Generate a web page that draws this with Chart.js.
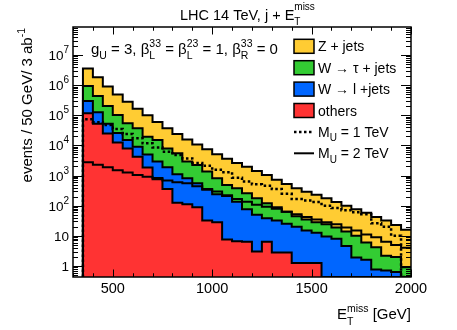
<!DOCTYPE html>
<html>
<head>
<meta charset="utf-8">
<script src="https://cdn.jsdelivr.net/npm/chart.js@4.4.1/dist/chart.umd.min.js"></script>
<style>
  html, body { margin: 0; padding: 0; background: #fff; }
  #wrap { width: 457px; height: 330px; }
</style>
</head>
<body>
<div id="wrap"><canvas id="c" width="457" height="330"></canvas></div>
<script>
// MET spectrum, 50 GeV bins from 350 to 2000 GeV (low edges)
const binLow = [350, 400, 450, 500, 550, 600, 650, 700, 750, 800, 850, 900, 950, 1000, 1050,
  1100, 1150, 1200, 1250, 1300, 1350, 1400, 1450, 1500, 1550, 1600, 1650, 1700, 1750, 1800,
  1850, 1900, 1950];

// stacked totals (0 = empty bin)
const zjetsStack = [3.55e6, 1.82e6, 9.1e5, 4.9e5, 2.8e5, 1.66e5, 1.0e5, 6.0e4, 3.7e4, 2.4e4,
  1.58e4, 1.07e4, 7400, 5100, 3600, 2600, 1950, 1410, 1050, 720, 525, 380, 290, 230, 178, 132,
  100, 76, 58, 42, 32, 23, 16];
const wtauStack = [9.3e5, 4.4e5, 2.04e5, 1.02e5, 5.4e4, 3.7e4, 1.95e4, 1.51e4, 7900, 5500,
  2900, 2240, 1350, 810, 490, 380, 257, 178, 120, 89, 63, 45, 35, 28, 24, 19, 14, 10, 6, 4.2,
  2.2, 2.0, 0.9];
const wlStack = [2.95e5, 1.26e5, 5.2e4, 2.6e4, 1.51e4, 9100, 5000, 2950, 1900, 1100, 810, 550,
  340, 240, 220, 135, 76, 50, 38, 32, 25, 20, 15, 12.6, 9.5, 8, 4.6, 1.9, 1.6, 0.76, 0.7, 0.63, 0];
const othersStack = [1.17e5, 5.2e4, 2.5e4, 1.26e4, 7900, 4200, 1860, 830, 355, 126, 112, 89, 32,
  28, 7.6, 6.6, 6.3, 3.0, 6.3, 2.8, 2.8, 1.26, 1.26, 1.26, 0, 0, 0, 0, 0, 0, 0, 0, 0];

// signal (not stacked)
const mu1TeV = [7.4e4, 5.9e4, 4.8e4, 3.5e4, 2.4e4, 1.74e4, 1.17e4, 8500, 6200, 4800, 3700, 2600,
  2100, 1550, 1290, 850, 630, 510, 460, 355, 250, 166, 150, 132, 100, 83, 71, 60, 52, 26, 20, 10, 0];
const mu2TeV = [2750, 2290, 1900, 1510, 1260, 1050, 910, 760, 690, 600, 550, 440, 355, 295, 210,
  166, 135, 107, 93, 79, 63, 52, 42, 35, 28, 24, 19, 15, 11, 8.9, 6.3, 5.0, 4.0];

const xLabels = [500, 1000, 1500, 2000];
const yDecades = [0, 1, 2, 3, 4, 5, 6, 7];

const X_MIN = 300, X_MAX = 2000, BIN_W = 50;
const Y_MIN = 0.43, Y_MAX = 8.5e7;

const YELLOW = '#ffcc33', GREEN = '#33cc33', BLUE = '#0066ff', RED = '#ff3333';
const FONT = '"Liberation Sans", Arial, Helvetica, sans-serif';
const font = (px) => `${px}px ${FONT}`;

// ROOT-like histogram outline: vertical edge at the first bin, step per bin, empty bins sit on the floor
function histPoints(vals) {
  const pts = [{ x: binLow[0], y: Y_MIN }];
  vals.forEach((v, i) => pts.push({ x: binLow[i], y: v > 0 ? v : Y_MIN }));
  const last = vals[vals.length - 1];
  pts.push({ x: binLow[binLow.length - 1] + BIN_W, y: last > 0 ? last : Y_MIN });
  return pts;
}

function histSet(label, vals, extra) {
  return Object.assign({
    label, data: histPoints(vals), stepped: true, pointRadius: 0, tension: 0,
    borderColor: '#000', borderWidth: 2, borderJoinStyle: 'miter', fill: false,
  }, extra);
}

// first dataset is drawn last (on top)
const datasets = [
  histSet('M_U = 1 TeV', mu1TeV, { borderWidth: 2.5, borderDash: [2.5, 2.5] }),
  histSet('M_U = 2 TeV', mu2TeV, {}),
  histSet('others', othersStack, { backgroundColor: RED, fill: 'start' }),
  histSet('W -> l +jets', wlStack, { backgroundColor: BLUE, fill: 'start' }),
  histSet('W -> tau + jets', wtauStack, { backgroundColor: GREEN, fill: 'start' }),
  histSet('Z + jets', zjetsStack, { backgroundColor: YELLOW, fill: 'start' }),
];

// text with sub/superscripts: parts = [{t}, {sub, sup}]
function richWidth(ctx, parts, main, small) {
  let w = 0;
  parts.forEach((p) => {
    if (p.t !== undefined) { ctx.font = font(main); w += ctx.measureText(p.t).width; }
    else {
      ctx.font = font(small);
      w += Math.max(p.sub ? ctx.measureText(p.sub).width : 0, p.sup ? ctx.measureText(p.sup).width : 0);
    }
  });
  return w;
}
function drawRich(ctx, x, y, parts, o) {
  const w = richWidth(ctx, parts, o.main, o.small);
  let cx = o.align === 'right' ? x - w : o.align === 'center' ? x - w / 2 : x;
  ctx.textAlign = 'left';
  ctx.textBaseline = 'alphabetic';
  parts.forEach((p) => {
    if (p.t !== undefined) {
      ctx.font = font(o.main);
      ctx.fillText(p.t, cx, y);
      cx += ctx.measureText(p.t).width;
    } else {
      ctx.font = font(o.small);
      let adv = 0;
      if (p.sub) { ctx.fillText(p.sub, cx, y + o.subDy); adv = Math.max(adv, ctx.measureText(p.sub).width); }
      if (p.sup) { ctx.fillText(p.sup, cx, y + o.supDy); adv = Math.max(adv, ctx.measureText(p.sup).width); }
      cx += adv;
    }
  });
}

const legendRows = [
  { kind: 'box', color: YELLOW, parts: [{ t: 'Z + jets' }] },
  { kind: 'box', color: GREEN, parts: [{ t: 'W \u2192 \u03c4 + jets' }] },
  { kind: 'box', color: BLUE, parts: [{ t: 'W \u2192 l +jets' }] },
  { kind: 'box', color: RED, parts: [{ t: 'others' }] },
  { kind: 'dot', parts: [{ t: 'M' }, { sub: 'U' }, { t: ' = 1 TeV' }] },
  { kind: 'line', parts: [{ t: 'M' }, { sub: 'U' }, { t: ' = 2 TeV' }] },
];

const rootDeco = {
  id: 'rootDeco',
  afterDatasetsDraw(chart) {
    const { ctx, chartArea: a, scales: { x, y } } = chart;
    ctx.save();
    ctx.strokeStyle = '#000';
    ctx.lineWidth = 1;
    ctx.beginPath();
    // x ticks, bottom and top, pointing inward
    for (let v = X_MIN; v <= X_MAX; v += 100) {
      const px = Math.round(x.getPixelForValue(v)) + 0.5;
      const len = v % 500 === 0 ? 7.5 : 3.75;
      ctx.moveTo(px, a.bottom); ctx.lineTo(px, a.bottom - len);
      ctx.moveTo(px, a.top); ctx.lineTo(px, a.top + len);
    }
    // log y ticks, left and right
    for (let e = -1; e <= 8; e++) {
      for (let m = 1; m <= 9; m++) {
        const v = m * Math.pow(10, e);
        if (v < Y_MIN || v > Y_MAX) continue;
        const py = Math.round(y.getPixelForValue(v)) + 0.5;
        const len = m === 1 ? 10 : 5;
        ctx.moveTo(a.left, py); ctx.lineTo(a.left + len, py);
        ctx.moveTo(a.right, py); ctx.lineTo(a.right - len, py);
      }
    }
    ctx.stroke();
    ctx.lineWidth = 1.5;
    ctx.strokeRect(a.left, a.top, a.right - a.left, a.bottom - a.top);
    ctx.restore();
  },
  afterDraw(chart) {
    const { ctx, chartArea: a, scales: { y } } = chart;
    ctx.save();
    ctx.fillStyle = '#000';

    // y tick labels 1, 10, 10^2 ...
    yDecades.forEach((k) => {
      const py = y.getPixelForValue(Math.pow(10, k)) + 5;
      if (k < 2) {
        ctx.font = font(13.5); ctx.textAlign = 'right'; ctx.textBaseline = 'alphabetic';
        ctx.fillText(k === 0 ? '1' : '10', a.left - 4, py);
      } else {
        drawRich(ctx, a.left - 4, py, [{ t: '10' }, { sup: String(k) }],
          { main: 13.5, small: 10, supDy: -7, subDy: 0, align: 'right' });
      }
    });

    // title
    drawRich(ctx, 180, 19.5, [{ t: 'LHC 14 TeV, j + E' }, { sub: 'T', sup: 'miss' }],
      { main: 14.5, small: 10, supDy: -10, subDy: 5.5, align: 'left' });

    // coupling annotation
    drawRich(ctx, 91, 53.5, [
      { t: 'g' }, { sub: 'U' }, { t: ' = 3, \u03b2' }, { sub: 'L', sup: '33' },
      { t: ' = \u03b2' }, { sub: 'L', sup: '23' }, { t: ' = 1, \u03b2' }, { sub: 'R', sup: '33' },
      { t: ' = 0' },
    ], { main: 15, small: 10.5, supDy: -7, subDy: 5.5, align: 'left' });

    // x axis title
    drawRich(ctx, a.right, 318.5, [{ t: 'E' }, { sub: 'T', sup: 'miss' }, { t: ' [GeV]' }],
      { main: 15, small: 10.5, supDy: -7, subDy: 6.5, align: 'right' });

    // y axis title, rotated, right-aligned to the top of the frame
    ctx.save();
    ctx.translate(32, 28);
    ctx.rotate(-Math.PI / 2);
    drawRich(ctx, 0, 0, [{ t: 'events / 50 GeV/ 3 ab' }, { sup: '-1' }],
      { main: 15, small: 10.5, supDy: -7, subDy: 0, align: 'right' });
    ctx.restore();

    // legend
    legendRows.forEach((r, i) => {
      const cy = 46.3 + i * 21.4;
      if (r.kind === 'box') {
        ctx.fillStyle = r.color;
        ctx.fillRect(294, cy - 7, 20, 14);
        ctx.strokeStyle = '#000'; ctx.lineWidth = 1.5; ctx.setLineDash([]);
        ctx.strokeRect(294, cy - 7, 20, 14);
      } else {
        ctx.strokeStyle = '#000';
        ctx.lineWidth = r.kind === 'dot' ? 2.5 : 2;
        ctx.setLineDash(r.kind === 'dot' ? [2.5, 2.5] : []);
        ctx.beginPath(); ctx.moveTo(294, cy); ctx.lineTo(314, cy); ctx.stroke();
        ctx.setLineDash([]);
      }
      ctx.fillStyle = '#000';
      drawRich(ctx, 318, cy + 5, r.parts, { main: 14, small: 10, supDy: -7, subDy: 4.5, align: 'left' });
    });
    ctx.restore();
  },
};

new Chart(document.getElementById('c'), {
  type: 'line',
  data: { datasets },
  plugins: [rootDeco],
  options: {
    responsive: false,
    animation: false,
    devicePixelRatio: 1,
    layout: { padding: { top: 27, right: 46, left: 0, bottom: 0 } },
    plugins: { legend: { display: false }, tooltip: { enabled: false } },
    scales: {
      x: {
        type: 'linear', min: X_MIN, max: X_MAX,
        grid: { display: false, drawTicks: false }, border: { display: false },
        afterBuildTicks: (s) => { s.ticks = xLabels.map((v) => ({ value: v })); },
        afterFit: (s) => { s.height = 53; },
        ticks: {
          autoSkip: false, maxRotation: 0, padding: 3, color: '#000',
          font: { family: FONT, size: 14.5 },
          callback: (v) => String(v),
        },
      },
      y: {
        type: 'logarithmic', min: Y_MIN, max: Y_MAX,
        grid: { display: false, drawTicks: false }, border: { display: false },
        ticks: { display: false },
        afterFit: (s) => { s.width = 73; },
      },
    },
  },
});
</script>
</body>
</html>
